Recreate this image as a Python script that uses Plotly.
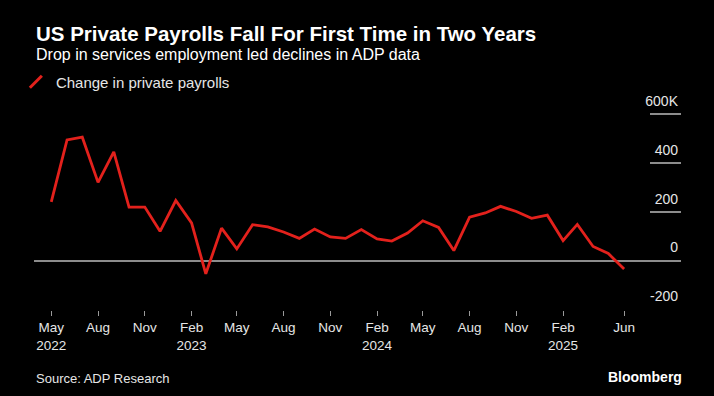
import pandas as pd
import plotly.graph_objects as go

# ---- data (thousands of jobs, monthly change in private payrolls) ----
months = pd.date_range("2022-05-01", "2025-06-01", freq="MS")
payrolls = [242, 496, 507, 322, 447, 221, 221, 122,
            248, 156, -52, 135, 50, 149, 140, 119, 93, 131, 99, 93,
            129, 91, 82, 115, 165, 138, 43, 180, 197, 224, 203, 175,
            188, 84, 150, 60, 31, -32]
tick_dates = ["2022-05-01", "2022-08-01", "2022-11-01", "2023-02-01", "2023-05-01",
              "2023-08-01", "2023-11-01", "2024-02-01", "2024-05-01", "2024-08-01",
              "2024-11-01", "2025-02-01", "2025-06-01"]
tick_text = ["May<br>2022", "Aug", "Nov", "Feb<br>2023", "May", "Aug", "Nov",
             "Feb<br>2024", "May", "Aug", "Nov", "Feb<br>2025", "Jun"]
y_ticks = [-200, 0, 200, 400, 600]
y_tick_text = ["-200", "0", "200", "400", "600K"]

RED = "#e3211c"
FONT = "Liberation Sans"

fig = go.Figure()
fig.add_trace(go.Scatter(x=months, y=payrolls, mode="lines",
                         line=dict(color=RED, width=2.8),
                         showlegend=False, hoverinfo="x+y"))
# legend entry with a slash icon
fig.add_trace(go.Scatter(x=[None], y=[None], mode="markers",
                         marker=dict(symbol="line-ne", size=12,
                                     line=dict(color=RED, width=3)),
                         name="Change in private payrolls"))

H = 396
Y_MIN, Y_MAX = -200, 700
PX_PER_K = (310 - 114.3) / 800.0
B = 86
T = H - B - int(round((Y_MAX - Y_MIN) * PX_PER_K))
ph = H - T - B


def yp(py):
    return (H - B - py) / ph


fig.update_layout(
    width=714, height=396,
    paper_bgcolor="black", plot_bgcolor="black",
    margin=dict(l=34, r=33, t=T, b=B, autoexpand=False),
    font=dict(family=FONT, color="#e6e6e6", size=14),
    showlegend=True,
    legend=dict(x=-0.028, xanchor="left", y=yp(82), yanchor="middle",
                bgcolor="rgba(0,0,0,0)", font=dict(size=15, color="#e6e6e6"),
                itemclick=False),
    xaxis=dict(
        range=["2022-03-28", "2025-09-21"],
        showgrid=False, zeroline=False, showline=False,
        tickvals=tick_dates, ticktext=tick_text,
        ticks="outside", ticklen=5, tickwidth=1, tickcolor="#9a9a9a",
        tickfont=dict(size=13.5, color="#e6e6e6"),
    ),
    yaxis=dict(
        range=[Y_MIN, Y_MAX], side="right",
        showgrid=False, showline=False,
        zeroline=True, zerolinecolor="#8c8c8c", zerolinewidth=1.5,
        tickvals=y_ticks, ticktext=y_tick_text,
        ticks="inside", ticklen=31, tickwidth=1.5, tickcolor="#8c8c8c",
        ticklabelposition="inside top", ticklabelshift=-3,
        tickfont=dict(size=14, color="#e6e6e6"),
    ),
    annotations=[
        dict(text="<b>US Private Payrolls Fall For First Time in Two Years</b>",
             x=0, xref="paper", xanchor="left", y=yp(33.5), yref="paper",
             yanchor="middle", showarrow=False,
             font=dict(size=20.5, color="white", family=FONT)),
        dict(text="Drop in services employment led declines in ADP data",
             x=0, xref="paper", xanchor="left", y=yp(54.5), yref="paper",
             yanchor="middle", showarrow=False,
             font=dict(size=16, color="white", family=FONT)),
        dict(text="Source: ADP Research",
             x=0, xref="paper", xanchor="left", y=yp(378.5), yref="paper",
             yanchor="middle", showarrow=False,
             font=dict(size=13, color="#e6e6e6", family=FONT)),
        dict(text="<b>Bloomberg</b>",
             x=(684 - 34) / 647, xref="paper", xanchor="right", y=yp(377),
             yref="paper", yanchor="middle", showarrow=False,
             font=dict(size=14, color="white", family=FONT)),
    ],
)

fig.write_html("out.html", config={"displayModeBar": False},
               post_script="document.body.style.margin='0';"
                           "document.body.style.background='black';")
